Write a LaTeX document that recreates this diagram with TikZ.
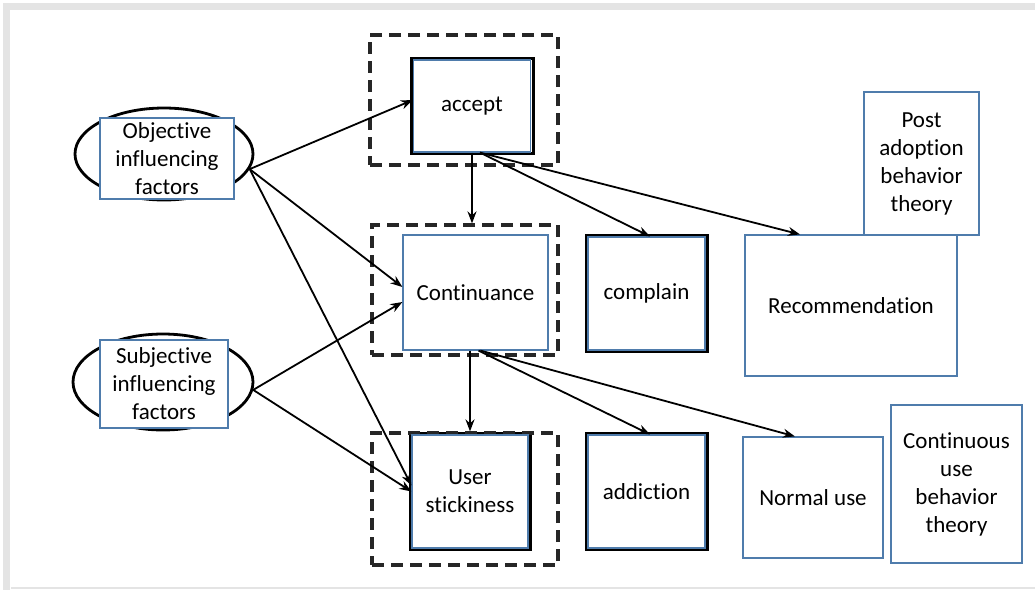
\documentclass[tikz,border=0pt]{standalone}
\usepackage{fontspec}
\setmainfont{Carlito}[Ligatures=NoCommon]
\usetikzlibrary{positioning, backgrounds, shapes.geometric, arrows.meta}
\definecolor{boxblue}  {HTML}{4F7CAC}
\definecolor{framegray}{HTML}{E4E4E4}

\begin{document}
\begin{tikzpicture}[
    x=0.5pt, y=-0.5pt,
    every node/.style={font=\fontsize{11.5}{14}\selectfont, text=black},
    box/.style={
        draw=boxblue, fill=white, line width=0.6pt,
        align=center, inner sep=2pt
    },
    factor/.style={
        ellipse, draw=black, line width=1.4pt,
        minimum width=89pt, minimum height=46pt, inner sep=0pt
    },
    group/.style={draw=black!85, dash pattern=on 6pt off 3.5pt, line width=1.6pt},
    backframe/.style={draw=black, line width=1.5pt},
    arrow/.style={-{Stealth[length=6pt, width=4.5pt]}, line width=0.9pt, draw=black}
]

\useasboundingbox (0,0) rectangle (1035,590);

% ── PAGE FRAME ────────────────────────────────────────────────
\begin{scope}[on background layer]
    \fill[white] (0,0) rectangle (1035,590);
    \draw[framegray, line width=3.5pt] (6,590) -- (6,6) -- (1035,6);
    \draw[framegray, line width=1pt] (11,588) -- (1035,588);
\end{scope}

% ── INFLUENCING FACTORS ───────────────────────────────────────
\node[factor] (objell) at (164,154) {};
\node[box, minimum width=67pt, minimum height=40.5pt] (objfac) at (167,158.5)
    {Objective\\influencing\\factors};

\node[factor, minimum width=90pt, minimum height=48pt] (subell) at (163,382) {};
\node[box, minimum width=64pt, minimum height=44pt] (subfac) at (164,384)
    {Subjective\\influencing\\factors};

% ── STAGE GROUPS (dashed) ─────────────────────────────────────
\node[group, minimum width=94pt, minimum height=65pt] (grpaccept) at (464,100) {};
\node[group, minimum width=93pt, minimum height=65pt] (grpcont)   at (465,290) {};
\node[group, minimum width=93pt, minimum height=66pt] (grpstick)  at (465,499) {};

% ── STAGES ────────────────────────────────────────────────────
\node[box, minimum width=58.5pt, minimum height=46pt] (accept) at (472,106)
    {accept};
\node[box, minimum width=72.5pt, minimum height=57.5pt] (cont) at (475.5,292.5)
    {Continuance};
\node[box, minimum width=58pt, minimum height=56.5pt] (stick) at (470,491.5)
    {User\\stickiness};

% ── OUTCOMES ──────────────────────────────────────────────────
\node[box, minimum width=58.5pt, minimum height=56.5pt] (complain) at (646.5,293.5)
    {complain};
\node[box, minimum width=58.5pt, minimum height=56.5pt] (addict) at (646.5,491.5)
    {addiction};

\node[box, minimum width=57.5pt, minimum height=71.5pt] (postadopt) at (921.5,163.5)
    {Post\\adoption\\behavior\\theory};
\node[box, minimum width=106pt, minimum height=70.5pt] (recom) at (851,305.5)
    {Recommendation};

\node[box, minimum width=70pt, minimum height=60.5pt] (normal) at (813,497.5)
    {Normal use};
\node[box, minimum width=65.5pt, minimum height=79pt] (contuse) at (956.5,484)
    {Continuous\\use\\behavior\\theory};

% black frames behind the stage boxes
\begin{scope}[on background layer]
    \foreach \b in {accept, stick, complain, addict}
        \draw[backframe] ([shift={(-0.5pt,-0.5pt)}]\b.south west)
            rectangle ([shift={(1pt,0.5pt)}]\b.north east);
\end{scope}

% ── ARROWS: factors → stages ──────────────────────────────────
\draw[arrow] (objell.-10) -- ([yshift=3pt]accept.west);
\draw[arrow] (objell.-10) -- ([yshift=2.75pt]cont.west);
\draw[arrow] (objell.-10) -- ([yshift=3pt]stick.west);
\draw[arrow] (subell.-5)  -- ([yshift=-4.75pt]cont.west);
\draw[arrow] (subell.-5)  -- (stick.west);

% ── ARROWS: stage → stage ─────────────────────────────────────
\draw[arrow] (accept.south) -- (accept.south |- grpcont.north);
\draw[arrow] (cont.south -| stick.north) -- (stick.north |- grpstick.north);

% ── ARROWS: stage → outcomes ──────────────────────────────────
\draw[arrow] ([xshift=4pt]accept.south) -- ([xshift=1.75pt]complain.north);
\draw[arrow] ([xshift=4pt]accept.south) -- ([xshift=-25.5pt]recom.north);
\draw[arrow] ([xshift=1.5pt]cont.south) -- ([xshift=1.75pt]addict.north);
\draw[arrow] ([xshift=2.5pt]cont.south) -- ([xshift=-9pt]normal.north);

\end{tikzpicture}
\end{document}
